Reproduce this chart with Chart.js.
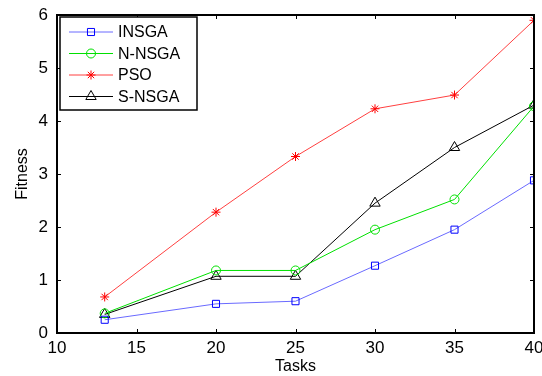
<!DOCTYPE html>
<html>
<head>
<meta charset="utf-8">
<script src="https://cdn.jsdelivr.net/npm/chart.js@4/dist/chart.umd.min.js"></script>
<style>
  html, body { margin: 0; padding: 0; background: #fff; }
  #wrap { width: 542px; height: 376px; }
</style>
</head>
<body>
<div id="wrap"><canvas id="myChart" width="542" height="376"></canvas></div>
<script>
// data
const tasks = [13, 20, 25, 30, 35, 40];
const insga = [0.25, 0.55, 0.6, 1.27, 1.95, 2.88];
const nnsga = [0.37, 1.18, 1.18, 1.95, 2.52, 4.28];
const pso = [0.68, 2.28, 3.33, 4.23, 4.49, 5.9];
const snsga = [0.35, 1.07, 1.07, 2.45, 3.5, 4.3];
const xTicks = [10, 15, 20, 25, 30, 35, 40];
const yTicks = [0, 1, 2, 3, 4, 5, 6];

const FONT = "Arial, 'Liberation Sans', sans-serif";

function pts(ys) {
  return tasks.map((t, i) => ({ x: t, y: ys[i] }));
}

// matlab style frame, inward ticks and boxed legend
const matlabFrame = {
  id: "matlabFrame",
  afterDraw(chart) {
    const ctx = chart.ctx;
    const a = chart.chartArea;
    const xs = chart.scales.x, ys = chart.scales.y;
    ctx.save();
    ctx.strokeStyle = "#000";
    ctx.lineWidth = 1;
    ctx.beginPath();
    xTicks.forEach(v => {
      const px = Math.round(xs.getPixelForValue(v)) + 0.5;
      ctx.moveTo(px, a.bottom); ctx.lineTo(px, a.bottom - 4);
      ctx.moveTo(px, a.top); ctx.lineTo(px, a.top + 4);
    });
    yTicks.forEach(v => {
      const py = Math.round(ys.getPixelForValue(v)) + 0.5;
      ctx.moveTo(a.left, py); ctx.lineTo(a.left + 4, py);
      ctx.moveTo(a.right, py); ctx.lineTo(a.right - 4, py);
    });
    ctx.stroke();
    ctx.lineWidth = 2;
    ctx.strokeRect(a.left, a.top, a.right - a.left, a.bottom - a.top);

    // legend
    const lx = a.left + 3, ly = a.top + 2, lw = 137, lh = 93;
    ctx.fillStyle = "#fff";
    ctx.fillRect(lx, ly, lw, lh);
    ctx.lineWidth = 1.5;
    ctx.strokeRect(lx, ly, lw, lh);
    ctx.font = "16px " + FONT;
    ctx.textBaseline = "middle";
    chart.data.datasets.forEach((ds, i) => {
      const cy = ly + 15 + i * 21.5;
      ctx.strokeStyle = ds.borderColor;
      ctx.lineWidth = 1;
      ctx.beginPath();
      ctx.moveTo(lx + 9, cy); ctx.lineTo(lx + 53, cy);
      ctx.stroke();
      ctx.strokeStyle = ds.pointBorderColor;
      ctx.fillStyle = "rgba(0,0,0,0)";
      Chart.helpers.drawPoint(ctx, {
        pointStyle: ds.pointStyle, radius: ds.pointRadius, borderWidth: 1, rotation: 0
      }, lx + 31, cy);
      ctx.fillStyle = "#000";
      ctx.fillText(ds.label, lx + 58, cy + 1);
    });
    ctx.restore();
  }
};

const ctx = document.getElementById("myChart").getContext("2d");
const myChart = new Chart(ctx, {
  type: "scatter",
  data: {
    datasets: [
      { label: "INSGA", data: pts(insga), borderColor: "#6a6aff", pointBorderColor: "#0000ff", backgroundColor: "rgba(0,0,0,0)", pointStyle: "rect", pointRadius: 5, showLine: true, borderWidth: 1 },
      { label: "N-NSGA", data: pts(nnsga), borderColor: "#00e000", pointBorderColor: "#00e000", backgroundColor: "rgba(0,0,0,0)", pointStyle: "circle", pointRadius: 4.5, showLine: true, borderWidth: 1 },
      { label: "PSO", data: pts(pso), borderColor: "#ff4040", pointBorderColor: "#ff0000", backgroundColor: "rgba(0,0,0,0)", pointStyle: "star", pointRadius: 4.5, showLine: true, borderWidth: 1 },
      { label: "S-NSGA", data: pts(snsga), borderColor: "#000000", pointBorderColor: "#000000", backgroundColor: "rgba(0,0,0,0)", pointStyle: "triangle", pointRadius: 6, showLine: true, borderWidth: 1 }
    ]
  },
  options: {
    responsive: false,
    animation: false,
    layout: { padding: { left: 0, right: 8, top: 15, bottom: 0 } },
    plugins: { legend: { display: false }, tooltip: { enabled: false } },
    elements: { point: { borderWidth: 1 } },
    scales: {
      x: {
        type: "linear", min: 10, max: 40,
        afterBuildTicks: s => { s.ticks = xTicks.map(v => ({ value: v })); },
        afterFit: s => { s.height = 43; s.paddingRight = 0; s.paddingLeft = 0; },
        grid: { display: false, drawTicks: false },
        border: { display: false },
        ticks: { color: "#000", font: { family: FONT, size: 17 }, padding: 5, maxRotation: 0 },
        title: { display: true, text: "Tasks", color: "#000", font: { family: FONT, size: 16 }, padding: { top: -3, bottom: 0 } }
      },
      y: {
        type: "linear", min: 0, max: 6,
        afterBuildTicks: s => { s.ticks = yTicks.map(v => ({ value: v })); },
        afterFit: s => { s.width = 57; s.paddingTop = 0; s.paddingBottom = 0; },
        grid: { display: false, drawTicks: false },
        border: { display: false },
        ticks: { color: "#000", font: { family: FONT, size: 17 }, padding: 9 },
        title: { display: true, text: "Fitness", color: "#000", font: { family: FONT, size: 16 }, padding: { top: 13, bottom: 0 } }
      }
    }
  },
  plugins: [matlabFrame]
});
</script>
</body>
</html>
